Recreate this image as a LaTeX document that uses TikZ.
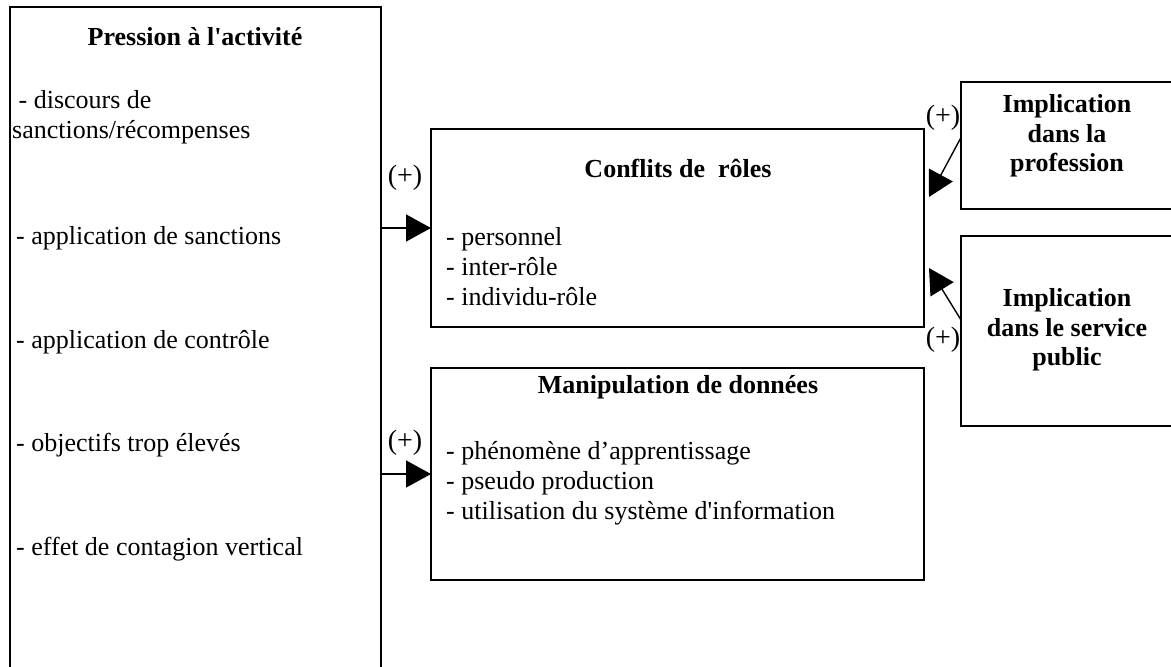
\documentclass[tikz,border=0pt]{standalone}
\usepackage{fontspec}
\setmainfont{Liberation Serif}
\usetikzlibrary{arrows.meta,
                positioning}

\begin{document}
\begin{tikzpicture}[x=1pt, y=-1pt,
    BOX/.style = {draw, line width=1.5pt, rectangle, inner sep=0pt,
                  outer sep=0pt, anchor=north west},
   HEAD/.style = {font=\fontsize{26}{29.5}\selectfont\bfseries, align=center,
                  inner sep=0pt},
    TXT/.style = {font=\fontsize{26}{30}\selectfont, align=left,
                  inner sep=0pt, anchor=west},
   PLUS/.style = {font=\fontsize{28}{30}\selectfont, inner sep=0pt},
    ARR/.style = {line width=1.4pt, -{Triangle[length=25pt,width=27pt]}}
                    ]
\useasboundingbox (0,0) rectangle (1171,667);
% boxes
\node (press) [BOX, minimum width=371pt, minimum height=680pt] at (10,7) {};
\node (conf)  [BOX, minimum width=493pt, minimum height=198pt] at (431,129) {};
\node (manip) [BOX, minimum width=493pt, minimum height=212pt] at (431,368) {};
\node (prof)  [BOX, minimum width=230pt, minimum height=127pt] at (961,82) {};
\node (pub)   [BOX, minimum width=230pt, minimum height=190pt] at (961,236) {};
% left box texts
\node (pressT) [HEAD] at (195,37) {Pression à l\textquotesingle activité};
\node (p1) [TXT] at (12,117) {\ - discours de\\sanctions/récompenses};
\node (p2) [TXT] at (16,238) {- application de sanctions};
\node (p3) [TXT] at (16,342) {- application de contrôle};
\node (p4) [TXT] at (16,445) {- objectifs trop élevés};
\node (p5) [TXT] at (16,549) {- effet de contagion vertical};
% middle boxes texts
\node (confT)  [HEAD] at (678,168) {Conflits de\ \ rôles};
\node (c1) [TXT] at (446,267) {- personnel\\- inter-rôle\\- individu-rôle};
\node (manipT) [HEAD] at (678,387) {Manipulation de données};
\node (m1) [TXT] at (446,483) {- phénomène d’apprentissage\\- pseudo production\\- utilisation du système d\textquotesingle information};
% right boxes texts
\node (profT) [HEAD] at (1067,136) {Implication\\dans la\\profession};
\node (pubT)  [HEAD] at (1067,330) {Implication\\dans le service\\public};
% arrows
\draw[ARR] (press.east |- conf.west) -- (conf.west);
\draw[ARR] (press.east |- manip.west) -- (manip.west);
\draw[ARR] ([yshift=8pt]prof.west) -- ([xshift=5pt,yshift=31pt]conf.east);
\draw[ARR] ([yshift=11pt]pub.west) -- ([xshift=5pt,yshift=-40pt]conf.east);
% signs
\node (s1) [PLUS] at (405,178) {(+)};
\node (s2) [PLUS] at (405,443) {(+)};
\node (s3) [PLUS] at (943,118) {(+)};
\node (s4) [PLUS] at (943,340) {(+)};
\end{tikzpicture}
\end{document}
